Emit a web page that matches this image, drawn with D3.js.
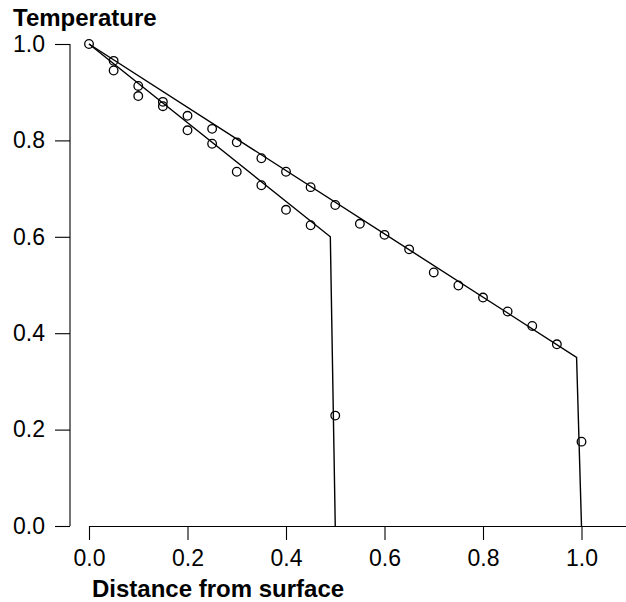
<!DOCTYPE html>
<html>
<head>
<meta charset="utf-8">
<script src="https://cdn.jsdelivr.net/npm/d3@7"></script>
<style>
  body { margin: 0; background: #fff; }
  text { font-family: "Liberation Sans", Arial, sans-serif; fill: #000; }
</style>
</head>
<body>
<svg id="chart" width="626" height="602"></svg>
<script>
// measured temperatures, slab 1 (thickness 0.5) and slab 2 (thickness 1.0)
var distA = [0, 0.05, 0.10, 0.15, 0.20, 0.25, 0.30, 0.35, 0.40, 0.45, 0.50];
var tempA = [1.0, 0.945, 0.892, 0.871, 0.821, 0.793, 0.735, 0.707, 0.656, 0.624, 0.229];

var distB = [0.05, 0.10, 0.15, 0.20, 0.25, 0.30, 0.35, 0.40, 0.45, 0.50, 0.55, 0.60,
             0.65, 0.70, 0.75, 0.80, 0.85, 0.90, 0.95, 1.00];
var tempB = [0.965, 0.913, 0.880, 0.851, 0.824, 0.796, 0.763, 0.735, 0.703, 0.666, 0.627, 0.604,
             0.574, 0.526, 0.499, 0.474, 0.445, 0.415, 0.377, 0.175];

// model profiles
var lineDistA = [0, 0.49, 0.5];
var lineTempA = [1.0, 0.6, 0];
var lineDistB = [0, 0.99, 1.0];
var lineTempB = [1.0, 0.35, 0];

var ticks = [0, 0.2, 0.4, 0.6, 0.8, 1.0];

var svg = d3.select("#chart");

var x = d3.scaleLinear().domain([0, 1]).range([89, 581.5]);
var y = d3.scaleLinear().domain([0, 1]).range([526, 44]);
var fmt = d3.format(".1f");

// y axis
var yAxis = svg.append("g")
    .attr("transform", "translate(70,0)")
    .call(d3.axisLeft(y).tickValues(ticks).tickFormat(fmt).tickSize(15).tickPadding(10));

// x axis, line runs off to the right edge
var xAxis = svg.append("g")
    .attr("transform", "translate(0,526)")
    .call(d3.axisBottom(x).tickValues(ticks).tickFormat(fmt).tickSize(14).tickPadding(10));
xAxis.select(".domain").remove();
xAxis.append("line")
    .attr("x1", x(0)).attr("x2", 640)
    .attr("y1", 0.5).attr("y2", 0.5)
    .attr("stroke", "#000");

svg.selectAll(".tick text")
    .style("font-size", "23px")
    .style("font-family", "'Liberation Sans', Arial, sans-serif");
svg.selectAll(".domain, .tick line").attr("stroke", "#000").attr("stroke-width", 1.1);
yAxis.select(".domain").attr("d", "M0," + y(0) + "V" + y(1));

// titles
svg.append("text")
    .attr("x", 13).attr("y", 26)
    .style("font-size", "24px").style("font-weight", "bold")
    .text("Temperature");

svg.append("text")
    .attr("x", 92).attr("y", 597)
    .style("font-size", "24px").style("font-weight", "bold")
    .text("Distance from surface");

// profile lines
var line = d3.line().x(d => x(d[0])).y(d => y(d[1]));

[[lineDistA, lineTempA], [lineDistB, lineTempB]].forEach(function(s) {
    svg.append("path")
        .datum(d3.zip(s[0], s[1]))
        .attr("d", line)
        .attr("fill", "none")
        .attr("stroke", "#000")
        .attr("stroke-width", 1.4);
});

// points
var pts = d3.zip(distA, tempA).concat(d3.zip(distB, tempB));
svg.selectAll("circle.pt")
    .data(pts)
    .enter().append("circle")
    .attr("class", "pt")
    .attr("cx", d => x(d[0]))
    .attr("cy", d => y(d[1]))
    .attr("r", 4.3)
    .attr("fill", "none")
    .attr("stroke", "#000")
    .attr("stroke-width", 1.3);
</script>
</body>
</html>
